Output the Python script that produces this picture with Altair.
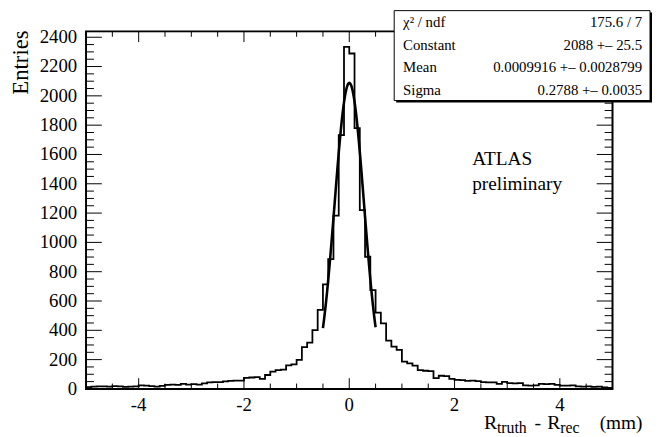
import altair as alt
import pandas as pd

# ---------------- data ----------------
bin_left = [round(-5.0 + 0.1 * i, 1) for i in range(100)]
counts_neg_tail = [12, 16, 18, 17, 16, 19, 17, 14, 15, 17,
                   24, 22, 19, 16, 21, 28, 30, 28, 34, 29,
                   33, 30, 38, 44, 47, 46, 52, 55, 56, 57]
counts_neg_core = [75, 78, 80, 68, 95, 118, 128, 132, 160, 168,
                   198, 285, 316, 402, 539, 714, 886, 1182, 1732, 2334]
counts_pos_core = [2289, 1780, 1220, 902, 675, 520, 448, 330, 289, 266,
                   186, 175, 159, 128, 124, 122, 73, 90, 88, 68]
counts_pos_tail = [62, 60, 55, 56, 54, 46, 45, 44, 34, 48,
                   40, 38, 40, 24, 22, 24, 34, 33, 34, 28,
                   23, 22, 24, 18, 16, 18, 14, 16, 10, 7]
counts = counts_neg_tail + counts_neg_core + counts_pos_core + counts_pos_tail

fit_constant = 2088.0
fit_mean = 0.0009916
fit_sigma = 0.2788
fit_range = [-0.5, 0.5]

stats_labels = ["\u03c7\u00b2 / ndf", "Constant", "Mean", "Sigma"]
stats_values = ["175.6 / 7", "2088  +\u2013 25.5",
                "0.0009916  +\u2013 0.0028799", "0.2788  +\u2013 0.0035"]

x_major = [-4, -2, 0, 2, 4]
x_major_labels = ["-4", "-2", "0", "2", "4"]
x_minor = [-4.5, -3.5, -3, -2.5, -1.5, -1, -0.5, 0.5, 1, 1.5, 2.5, 3, 3.5, 4.5]
y_major = list(range(0, 2401, 200))
y_major_labels = [str(v) for v in y_major]
y_minor = [v for v in range(50, 2440, 50) if v % 200 != 0]

XMIN, XMAX = -5.0, 5.0
YMIN, YMAX = 0.0, 2440.0
W, H = 533, 362
FONT = "Liberation Serif"

# ---------------- frames ----------------
hist_df = pd.DataFrame({"x": bin_left + [XMAX], "y": counts + [counts[-1]]})
one = pd.DataFrame({"k": [0]})
xlab_df = pd.DataFrame({"v": x_major, "t": x_major_labels})
ylab_df = pd.DataFrame({"v": y_major, "t": y_major_labels})

xs = alt.Scale(domain=[XMIN, XMAX], nice=False, zero=False)
ys = alt.Scale(domain=[YMIN, YMAX], nice=False, zero=False)

px_per_x = W / (XMAX - XMIN)
px_per_y = H / (YMAX - YMIN)
xt_major_len = 0.03 * H / px_per_y
xt_minor_len = 0.015 * H / px_per_y
yt_major_len = 0.03 * W / px_per_x
yt_minor_len = 0.015 * W / px_per_x

rows = []
for v in x_major:
    rows.append({"x": v, "x2": v, "y": YMIN, "y2": YMIN + xt_major_len})
    rows.append({"x": v, "x2": v, "y": YMAX, "y2": YMAX - xt_major_len})
for v in x_minor:
    rows.append({"x": v, "x2": v, "y": YMIN, "y2": YMIN + xt_minor_len})
    rows.append({"x": v, "x2": v, "y": YMAX, "y2": YMAX - xt_minor_len})
for v in y_major:
    rows.append({"x": XMIN, "x2": XMIN + yt_major_len, "y": v, "y2": v})
    rows.append({"x": XMAX, "x2": XMAX - yt_major_len, "y": v, "y2": v})
for v in y_minor:
    rows.append({"x": XMIN, "x2": XMIN + yt_minor_len, "y": v, "y2": v})
    rows.append({"x": XMAX, "x2": XMAX - yt_minor_len, "y": v, "y2": v})
ticks_df = pd.DataFrame(rows)

hist = alt.Chart(hist_df).mark_line(interpolate="step-after", color="black", strokeWidth=1.8).encode(
    x=alt.X("x:Q", scale=xs, axis=None),
    y=alt.Y("y:Q", scale=ys, axis=None),
)

fit = alt.Chart(alt.sequence(fit_range[0], fit_range[1] + 0.001, 0.01, as_="x")).transform_calculate(
    y=f"{fit_constant} * exp(-0.5 * pow((datum.x - {fit_mean}) / {fit_sigma}, 2))"
).mark_line(color="black", strokeWidth=2.6).encode(
    x=alt.X("x:Q", scale=xs), y=alt.Y("y:Q", scale=ys)
)

ticks = alt.Chart(ticks_df).mark_rule(color="black", strokeWidth=1).encode(
    x=alt.X("x:Q", scale=xs), x2="x2:Q", y=alt.Y("y:Q", scale=ys), y2="y2:Q"
)

frame = alt.Chart(one).mark_rect(fill=None, stroke="black", strokeWidth=2).encode(
    x=alt.value(0), x2=alt.value(W), y=alt.value(0), y2=alt.value(H)
)

xlabels = alt.Chart(xlab_df).mark_text(font=FONT, fontSize=19, align="center", baseline="middle",
                                       color="black").encode(
    x=alt.X("v:Q", scale=xs), y=alt.value(H + 16), text="t:N")
ylabels = alt.Chart(ylab_df).mark_text(font=FONT, fontSize=19, align="right", baseline="middle",
                                       color="black").encode(
    x=alt.value(-9), y=alt.Y("v:Q", scale=ys), text="t:N")


def txt(text, x, y, size, align="left", angle=None):
    kw = dict(font=FONT, fontSize=size, align=align, baseline="alphabetic",
              color="black", text=text)
    if angle is not None:
        kw["angle"] = angle
    return alt.Chart(one).mark_text(**kw).encode(x=alt.value(x), y=alt.value(y))


# stats box (shadow + box)
BOX_L, BOX_R, BOX_T, BOX_B = 312, 571, -21, 70
shadow = alt.Chart(one).mark_rect(fill="black").encode(
    x=alt.value(BOX_L + 2), x2=alt.value(BOX_R + 2), y=alt.value(BOX_T + 2), y2=alt.value(BOX_B + 2)
)
box = alt.Chart(one).mark_rect(fill="white", stroke="black", strokeWidth=1).encode(
    x=alt.value(BOX_L), x2=alt.value(BOX_R), y=alt.value(BOX_T), y2=alt.value(BOX_B)
)
row_baselines = [-4, 19, 41, 64]
stats_layers = []
for lab, val, yb in zip(stats_labels, stats_values, row_baselines):
    stats_layers.append(txt(lab, 321, yb, 15, "left"))
    stats_layers.append(txt(val, 563, yb, 15, "right"))

atlas = txt("ATLAS", 391, 135, 19.5)
prelim = txt("preliminary", 391, 161, 19.5)
ytitle = txt("Entries", -59, -1, 23, "right", 270)

xt_parts = [
    ("R", 403, 403, 20), ("truth", 416, 407, 16), ("-", 454, 403, 20),
    ("R", 467, 403, 20), ("rec", 480, 407, 16), ("(mm)", 520, 403, 19.5),
]
xtitle_layers = [txt(t, px, py, fs) for t, px, py, fs in xt_parts]

chart = alt.layer(
    hist, fit, ticks, frame, xlabels, ylabels, atlas, prelim, ytitle, *xtitle_layers,
    shadow, box, *stats_layers
).properties(
    width=W, height=H,
    padding={"left": 79, "top": 21, "right": 40, "bottom": 46},
    autosize="none",
).configure_view(stroke=None).configure(background="white")

chart.save("out.html", embed_options={"renderer": "svg", "actions": False})
